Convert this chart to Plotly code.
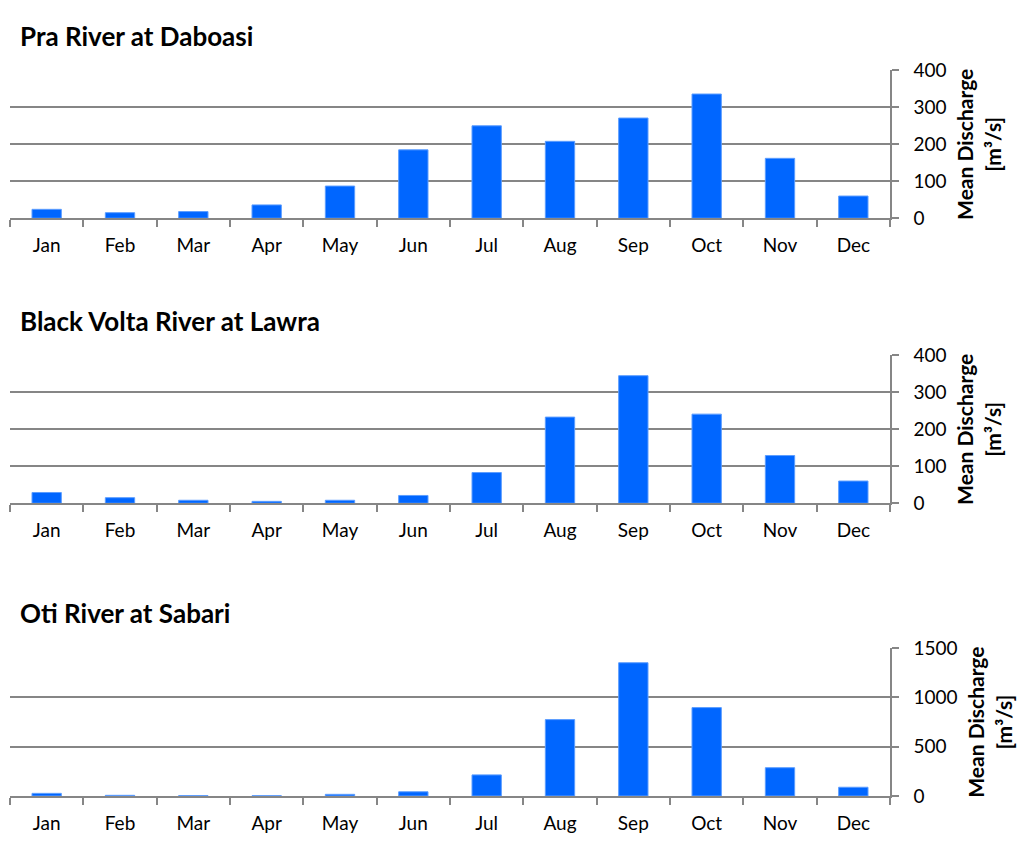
import plotly.graph_objects as go

months = ["Jan", "Feb", "Mar", "Apr", "May", "Jun", "Jul", "Aug", "Sep", "Oct", "Nov", "Dec"]
titles = ["Pra River at Daboasi", "Black Volta River at Lawra", "Oti River at Sabari"]
pra = [24, 15, 18, 36, 87, 185, 250, 208, 271, 336, 162, 60]
black_volta = [29, 15, 8, 5, 8, 21, 83, 233, 345, 241, 129, 60]
oti = [27, 7, 4, 3, 17, 43, 214, 775, 1352, 897, 287, 89]
series = [pra, black_volta, oti]
y_ranges = [[0, 400], [0, 400], [0, 1500]]
y_dticks = [100, 100, 500]

W, H = 1022, 843
panels = [(60, 212, 25), (353, 505, 318), (654, 806, 618)]
x0, x1 = 10, 890

FONT = "Lato, Carlito, Calibri, Open Sans, sans-serif"
GRID = "#868686"
BAR = "#0066FF"

fig = go.Figure()
for i, vals in enumerate(series):
    n = "" if i == 0 else str(i + 1)
    fig.add_trace(go.Bar(
        x=months, y=vals, xaxis="x" + n, yaxis="y" + n,
        marker=dict(color=BAR, line=dict(color="#5c9dff", width=1)),
        width=0.4, showlegend=False, hoverinfo="x+y",
    ))
    top, bot, ty = panels[i]
    fig.layout["xaxis" + n] = dict(
        domain=[x0 / W, x1 / W], anchor="y" + n, type="category",
        showline=True, linecolor=GRID, linewidth=1.5,
        ticks="outside", tickson="boundaries", ticklen=7, tickcolor=GRID, tickwidth=1.5,
        ticklabelstandoff=9,
        tickfont=dict(family=FONT, size=19, color="#000000"),
        showgrid=False, fixedrange=True,
    )
    fig.layout["yaxis" + n] = dict(
        domain=[(H - bot) / H, (H - top) / H], anchor="x" + n, side="right",
        range=y_ranges[i], dtick=y_dticks[i], tick0=0,
        showline=True, linecolor=GRID, linewidth=1.5,
        ticks="outside", ticklen=7, tickcolor=GRID, tickwidth=1.5,
        ticklabelstandoff=11,
        showgrid=True, gridcolor=GRID, gridwidth=1.5, zeroline=False,
        tickfont=dict(family=FONT, size=19, color="#000000"),
        title=dict(text="Mean Discharge<br>[m³/s]",
                   font=dict(family=FONT, size=21, color="#000000", weight="bold"),
                   standoff=13),
        fixedrange=True,
    )
    fig.add_annotation(
        text="<b>" + titles[i] + "</b>", xref="paper", yref="paper",
        x=18 / W, y=(H - ty) / H, xanchor="left", yanchor="middle", showarrow=False,
        font=dict(family=FONT, size=26, color="#000000"),
    )

fig.update_layout(
    width=W, height=H, margin=dict(l=0, r=0, t=0, b=0),
    paper_bgcolor="white", plot_bgcolor="white",
    bargap=0.6,
)
fig.write_html("out.html", config={"displayModeBar": False},
               post_script="document.body.style.margin='0';document.body.style.overflow='hidden';")
